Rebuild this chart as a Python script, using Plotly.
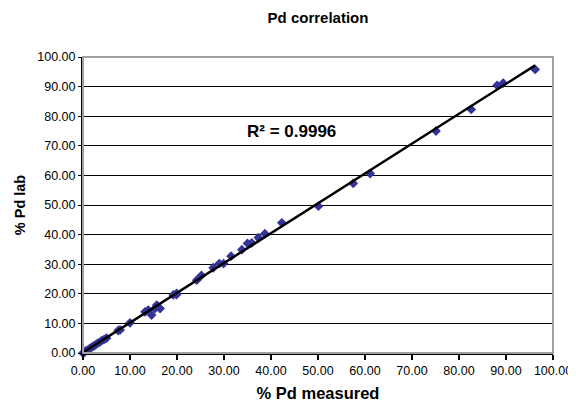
import numpy as np
import plotly.graph_objects as go

pd_measured = [0.0, 0.3, 0.6, 1.0, 1.4, 1.8, 2.2, 2.6, 3.0, 3.5, 4.0, 4.5, 5.0,
               7.5, 7.9, 10.0, 13.2, 13.9, 14.6, 15.3, 15.7, 16.4, 19.2, 19.9, 19.9,
               24.2, 25.2, 27.7, 29.0, 29.9, 31.5, 33.8, 35.0, 35.9, 37.3, 38.7,
               42.3, 50.1, 57.5, 61.1, 75.1, 82.6, 88.1, 89.4, 96.2]
pd_lab = [0.0, 0.2, 0.7, 1.0, 1.5, 1.9, 2.3, 2.7, 3.2, 3.6, 4.2, 4.6, 5.0,
          7.6, 7.8, 10.2, 13.9, 14.5, 12.8, 15.0, 16.2, 15.0, 19.6, 19.7, 20.1,
          24.6, 26.2, 28.8, 30.2, 30.2, 32.7, 34.9, 37.0, 37.2, 39.0, 40.3,
          44.0, 49.6, 57.3, 60.6, 75.0, 82.3, 90.4, 91.2, 95.8]

title_text = "Pd correlation"
x_title = "% Pd measured"
y_title = "% Pd lab"
r2_text = "R² = 0.9996"

x = np.array(pd_measured)
y = np.array(pd_lab)
slope, intercept = np.polyfit(x, y, 1)
fx = np.array([x.min(), x.max()])
fy = slope * fx + intercept

font_family = "Liberation Sans, Arial, sans-serif"

# page body has an 8px margin: figure is sized to fit 576x402 window
W, H = 568, 394

fig = go.Figure()
fig.add_trace(go.Scatter(
    x=pd_measured, y=pd_lab, mode="markers",
    marker=dict(symbol="diamond", size=7.5, color="#333399"),
    showlegend=False, cliponaxis=False))
fig.add_trace(go.Scatter(
    x=fx, y=fy, mode="lines",
    line=dict(color="black", width=2.5),
    showlegend=False))

fig.add_shape(type="rect", xref="paper", yref="paper", x0=0, y0=0, x1=1, y1=1,
              line=dict(color="#a0a0a0", width=2), layer="above")

fig.add_annotation(x=44.3, y=74.8, xref="x", yref="y", text=r2_text,
                   showarrow=False,
                   font=dict(family=font_family, size=17, color="black", weight="bold"))

fig.update_layout(
    width=W, height=H,
    margin=dict(l=75, r=23, t=49, b=49, autoexpand=False),
    paper_bgcolor="white", plot_bgcolor="white",
    font=dict(family=font_family, color="black"),
    title=dict(text=title_text, x=0.5, xanchor="center", xref="paper",
               y=1 - 10 / H, yanchor="middle",
               font=dict(family=font_family, size=15, color="black", weight="bold")),
)
fig.update_xaxes(
    range=[0, 100], dtick=10, tick0=0, tickformat=".2f",
    showgrid=False, zeroline=False, automargin=False,
    showline=True, linecolor="black", linewidth=2,
    ticks="outside", ticklen=5, tickcolor="black", tickwidth=1.5,
    tickfont=dict(family=font_family, size=12.5, color="black"),
    title=dict(text=x_title, standoff=10,
               font=dict(family=font_family, size=16.5, color="black", weight="bold")),
)
fig.update_yaxes(
    range=[0, 100], dtick=10, tick0=0, tickformat=".2f",
    showgrid=True, gridcolor="black", gridwidth=1, zeroline=False, automargin=False,
    showline=True, linecolor="black", linewidth=2,
    ticks="outside", ticklen=3, tickcolor="black", tickwidth=1,
    tickfont=dict(family=font_family, size=12.5, color="black"),
    title=dict(text=y_title, standoff=8,
               font=dict(family=font_family, size=14.5, color="black", weight="bold")),
)

fig.write_html("out.html")
